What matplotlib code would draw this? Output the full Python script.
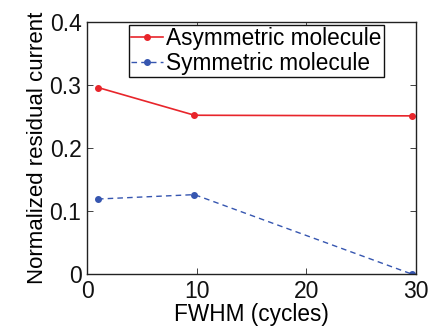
import matplotlib
matplotlib.use("Agg")
import matplotlib.pyplot as plt

fwhm = [1, 9.8, 29.6]
asym = [0.296, 0.252, 0.251]
sym = [0.119, 0.126, 0.0]
labels = ["Asymmetric molecule", "Symmetric molecule"]
xticks = [0, 10, 20, 30]
yticks = [0, 0.1, 0.2, 0.3, 0.4]
ytick_labels = ["0", "0.1", "0.2", "0.3", "0.4"]

plt.rcParams['font.family'] = ['Liberation Sans', 'DejaVu Sans']

fig = plt.figure(figsize=(4.33, 3.34), dpi=100)
ax = fig.add_axes([87/433, 1-274/334, 329/433, 252/334])

ax.plot(fwhm, asym, '-', color='#e8252b', marker='o', markersize=4, linewidth=1.2, label=labels[0])
ax.plot(fwhm, sym, '--', color='#3656b0', marker='o', markersize=4, linewidth=1.0, label=labels[1], dashes=(4, 3))

ax.set_xlim(0, 30)
ax.set_ylim(0, 0.4)
ax.set_xticks(xticks)
ax.set_yticks(yticks)
ax.set_yticklabels(ytick_labels)
ax.tick_params(direction='in', top=True, right=True, labelsize=16.5, length=4, width=0.6, pad=4, colors='#222222')
for sp in ax.spines.values():
    sp.set_linewidth(1.0)
    sp.set_color('#222222')
for t in ax.get_xticklabels() + ax.get_yticklabels():
    t.set_color('#111111')

ax.set_xlabel("FWHM (cycles)", fontsize=16.3, labelpad=0)
ax.set_ylabel("Normalized residual current", fontsize=16, labelpad=1)

leg = ax.legend(loc='upper left', bbox_to_anchor=(0.127, 0.99), fontsize=16.3,
                frameon=True, fancybox=False, edgecolor='#111111', framealpha=1,
                borderpad=0.1, handlelength=1.4, handletextpad=0.15, labelspacing=0.1,
                borderaxespad=0.0)
leg.get_frame().set_linewidth(1.0)

fig.savefig("out.png", dpi=100)
